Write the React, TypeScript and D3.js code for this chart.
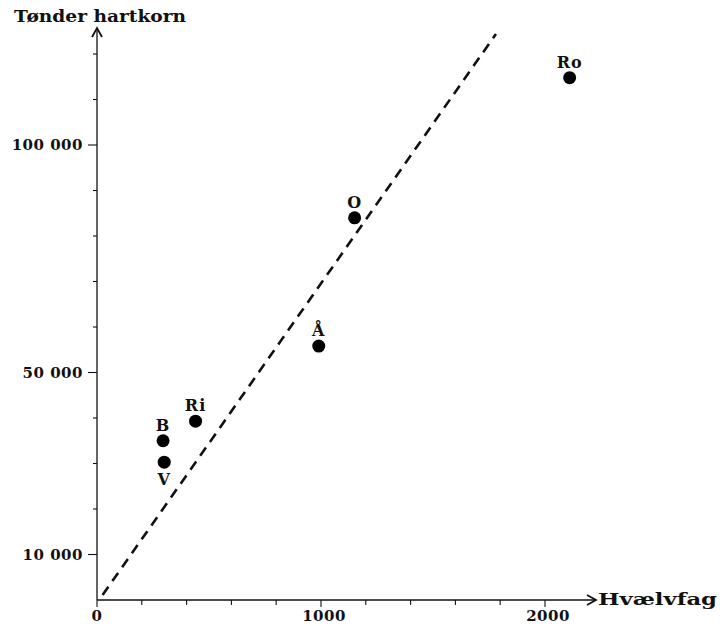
import React from "react";
import * as d3 from "d3";

const labels = ["B", "V", "Ri", "Å", "O", "Ro"];
const hvaelvfag = [295, 300, 440, 990, 1150, 2110];
const hartkorn = [35000, 30300, 39300, 55800, 84000, 114800];
const labelPos = ["above", "below", "above", "above", "above", "above"];
const lineX = [25, 1781];
const lineY = [1100, 124400];
const xTicks = [0, 200, 400, 600, 800, 1000, 1200, 1400, 1600, 1800, 2000];
const xTickLabels = [0, 1000, 2000];
const yTicks = [10000, 20000, 30000, 40000, 50000, 60000, 70000, 80000, 90000, 100000, 110000, 120000];
const yTickLabels = ["10 000", "50 000", "100 000"];
const yTickLabelValues = [10000, 50000, 100000];

const W = 720;
const H = 626;
const font = "'DejaVu Serif', serif";

export default function App() {
  const x = d3.scaleLinear().domain([0, 2000]).range([97, 545]);
  const y = d3.scaleLinear().domain([0, 100000]).range([600, 145]);
  const x0 = x(0);
  const y0 = y(0);
  const line = d3.line<number>()
    .x((d) => x(lineX[d]))
    .y((d) => y(lineY[d]));
  return (
    <svg width={W} height={H} style={{ position: "absolute", left: 0, top: 0, background: "#fff" }}>
      <rect width={W} height={H} fill="#fff" />
      {/* axes */}
      <line x1={x0} y1={y0} x2={595} y2={y0} stroke="#111" strokeWidth={1.3} />
      <polyline points={`587,${y0 - 5} 596,${y0} 587,${y0 + 5}`} fill="none" stroke="#111" strokeWidth={1.8} />
      <line x1={x0} y1={y0} x2={x0} y2={29} stroke="#111" strokeWidth={1.3} />
      <polyline points={`${x0 - 5},37 ${x0},28 ${x0 + 5},37`} fill="none" stroke="#111" strokeWidth={1.8} />
      {xTicks.map((t) => (
        <line key={t} x1={x(t)} x2={x(t)} y1={y0} y2={y0 + (t % 1000 === 0 ? 7 : 5)} stroke="#111" strokeWidth={1.1} />
      ))}
      {xTickLabels.map((t) => (
        <text key={t} x={x(t) + (t === 0 ? 0 : 3)} y={621} textAnchor="middle" fontFamily={font} fontWeight="bold" fontSize={15} fill="#111" letterSpacing={0.5}>
          {t}
        </text>
      ))}
      {yTicks.map((t) => (
        <line key={t} x1={x0} x2={x0 - (yTickLabelValues.includes(t) ? 9 : 4)} y1={y(t)} y2={y(t)} stroke="#111" strokeWidth={1.1} />
      ))}
      {yTickLabels.map((l, i) => (
        <text key={l} x={83} y={y(yTickLabelValues[i]) + 5} textAnchor="end" fontFamily={font} fontWeight="bold" fontSize={15} fill="#111" letterSpacing={0.5}>
          {l}
        </text>
      ))}
      <text x={14} y={22} fontFamily={font} fontWeight="bold" fontSize={16} fill="#111" textLength={172} lengthAdjust="spacingAndGlyphs">
        Tønder hartkorn
      </text>
      <text x={598} y={605} fontFamily={font} fontWeight="bold" fontSize={16} fill="#111" textLength={119} lengthAdjust="spacingAndGlyphs">
        Hvælvfag
      </text>
      {/* dashed line */}
      <path d={line([0, 1]) || ""} fill="none" stroke="#111" strokeWidth={2.6} strokeDasharray="10 7" />
      {/* points */}
      {labels.map((l, i) => (
        <g key={l}>
          <circle cx={x(hvaelvfag[i])} cy={y(hartkorn[i])} r={6.5} fill="#000" />
          <text
            x={x(hvaelvfag[i])}
            y={labelPos[i] === "above" ? y(hartkorn[i]) - 10 : y(hartkorn[i]) + 23}
            textAnchor="middle"
            fontFamily={font}
            fontWeight="bold"
            fontSize={16}
            fill="#111"
            letterSpacing={1}
          >
            {l}
          </text>
        </g>
      ))}
    </svg>
  );
}
